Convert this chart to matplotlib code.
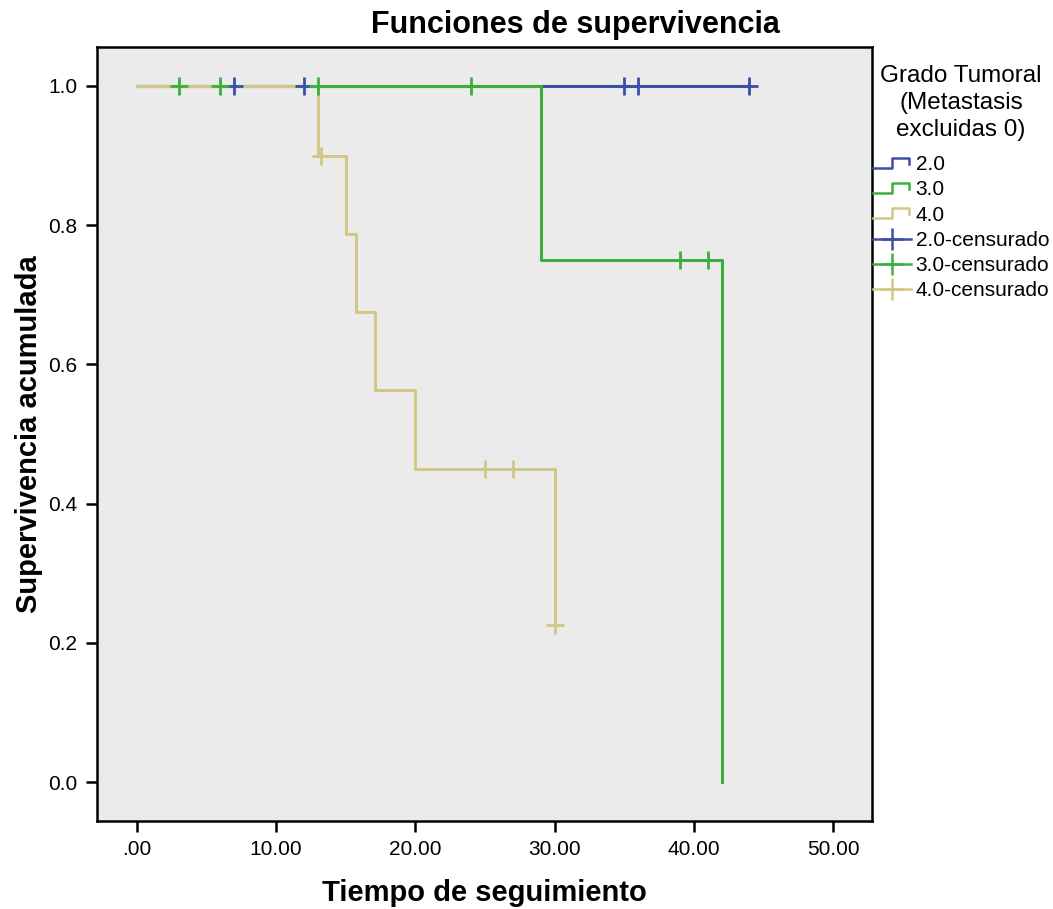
import numpy as np
import matplotlib
matplotlib.use("Agg")
import matplotlib.pyplot as plt
from matplotlib.lines import Line2D
from matplotlib.legend_handler import HandlerBase

plt.rcParams['font.family'] = ['Liberation Sans', 'DejaVu Sans']

# Kaplan-Meier: tiempos de evento, supervivencia y censurados por grado
grupos = ["2.0", "3.0", "4.0"]
colores = ["#3A4FA8", "#3DAE3D", "#D2C787"]

tiempos_2 = [0, 44]
superv_2 = [1.0, 1.0]
cens_2 = [7, 12, 35, 36, 44]

tiempos_3 = [0, 29, 42]
superv_3 = [1.0, 0.75, 0.0]
cens_3 = [3, 6, 13, 24, 39, 41]

tiempos_4 = [0, 13, 15, 15.7, 17.1, 20, 30]
superv_4 = [1.0, 0.9, 0.7875, 0.675, 0.5625, 0.45, 0.225]
cens_4 = [13.2, 25, 27, 30]

x_ticks = [0, 10, 20, 30, 40, 50]
x_labels = [".00", "10.00", "20.00", "30.00", "40.00", "50.00"]
y_ticks = [0.0, 0.2, 0.4, 0.6, 0.8, 1.0]


def valor_en(t, tiempos, superv):
    # valor de la curva escalonada en el tiempo t
    i = np.searchsorted(tiempos, t, side="right") - 1
    return superv[i]


class HandlerEscalon(HandlerBase):
    def create_artists(self, legend, orig_handle, xdescent, ydescent,
                       width, height, fontsize, trans):
        xs = np.array([0.0, 0.5, 0.5, 0.95, 0.95]) * width - xdescent
        ys = np.array([0.15, 0.15, 0.85, 0.85, 0.45]) * height - ydescent
        ln = Line2D(xs, ys, color=orig_handle.get_color(), lw=1.8)
        ln.set_transform(trans)
        return [ln]


fig = plt.figure(figsize=(10.53, 9.09), dpi=100)
ax = fig.add_axes([97/1053, 1 - 821/909, (872-97)/1053, (821-47)/909])
ax.set_facecolor("#EBEBEB")

datos = [(tiempos_2, superv_2, cens_2),
         (tiempos_3, superv_3, cens_3),
         (tiempos_4, superv_4, cens_4)]

curvas = []
for (t, s, c), col in zip(datos, colores):
    ln, = ax.step(t, s, where="post", color=col, lw=2.2, zorder=2)
    curvas.append(ln)

marcas = []
for (t, s, c), col in zip(datos, colores):
    yc = [valor_en(ci, t, s) for ci in c]
    m, = ax.plot(c, yc, linestyle="none", marker="+", markersize=13,
                 mew=2.0, color=col, zorder=3)
    marcas.append(m)

ax.set_xlim(-2.87, 52.8)
ax.set_ylim(-0.056, 1.056)
ax.set_xticks(x_ticks)
ax.set_xticklabels(x_labels)
ax.set_yticks(y_ticks)
ax.set_yticklabels([f"{v:.1f}" for v in y_ticks])
ax.tick_params(direction="out", length=8, width=1.8, labelsize=15, pad=6)
for sp in ax.spines.values():
    sp.set_linewidth(1.8)
    sp.set_color("black")

ax.set_xlabel("Tiempo de seguimiento", fontsize=21, fontweight="bold",
              labelpad=14)
ax.set_ylabel("Supervivencia acumulada", fontsize=21, fontweight="bold",
              labelpad=4)

fig.text(575/1053, 1 - 25/909, "Funciones de supervivencia", ha="center",
         va="center", fontsize=22, fontweight="bold")

# leyenda: curvas como escalones y censurados como cruces con línea
h_cens = [Line2D([], [], color=col, lw=1.8, marker="+", markersize=16, mew=1.8)
          for col in colores]
handles = curvas + h_cens
labels = grupos + [g + "-censurado" for g in grupos]
hmap = {c: HandlerEscalon() for c in curvas}
leg = fig.legend(handles, labels, loc="upper left",
                 bbox_to_anchor=(873/1053, 1 - 65/909), frameon=False,
                 fontsize=15, handlelength=1.8, handletextpad=0.25,
                 labelspacing=0.3, borderaxespad=0, borderpad=0,
                 title="Grado Tumoral\n(Metastasis\nexcluidas 0)",
                 title_fontsize=17.5, handler_map=hmap)
leg.get_title().set_multialignment("center")
leg.get_title().set_linespacing(1.3)
leg._legend_box.sep = 10

fig.savefig("out.png", dpi=100, facecolor="white")
